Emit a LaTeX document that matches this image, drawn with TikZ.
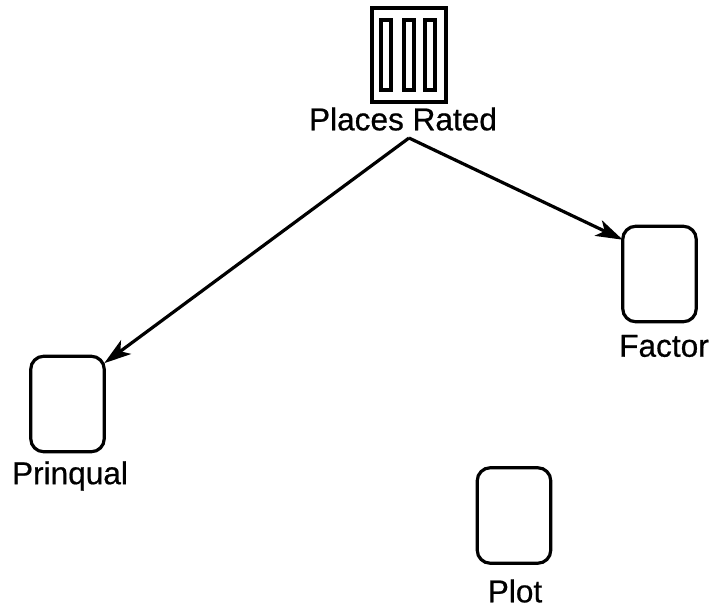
\documentclass[tikz,border=0pt]{standalone}
\usepackage{fontspec}
\setmainfont{Liberation Sans}
\newfontfamily\lblfont[FakeBold=0.6]{Liberation Sans}
\usetikzlibrary{arrows.meta}
\tikzset{
  x=1pt,y=-1pt,
  boxnode/.style={draw=black,line width=3.2pt,rounded corners=13pt,minimum width=73.5pt,minimum height=95.5pt,inner sep=0pt,outer sep=0pt,fill=white},
  frame/.style={draw=black,line width=3.2pt,minimum width=74pt,minimum height=94pt,inner sep=0pt,outer sep=0pt},
  slot/.style={draw=black,line width=4pt,minimum width=10pt,minimum height=70pt,inner sep=0pt,outer sep=0pt},
  lbl/.style={inner sep=0pt,font=\lblfont\fontsize{31.6}{34}\selectfont,text=black},
  conn/.style={line width=3.2pt,draw=black,-{Stealth[length=27pt,width=17pt,inset=7pt]}}
}
\begin{document}
\begin{tikzpicture}
\useasboundingbox[fill=white] (0,0) rectangle (715,613);
\node[frame] (places) at (409,55) {};
\node[slot] (s1) at (386,55) {};
\node[slot] (s2) at (409,55) {};
\node[slot] (s3) at (430,55) {};
\node[lbl] (placeslbl) at (403,119) {Places Rated};
\node[boxnode] (pr) at (67.5,404) {};
\node[boxnode] (fa) at (659.5,274) {};
\node[boxnode] (pl) at (514,515.5) {};
\node[lbl] (prlbl) at (70,476) {Prinqual};
\node[lbl] (falbl) at (664,346) {Factor};
\node[lbl] (pllbl) at (515,591) {Plot};
\coordinate (apex) at (409,138);
\draw[conn] (apex) -- (pr.48);
\draw[conn] (apex) -- (fa.137);
\end{tikzpicture}
\end{document}
